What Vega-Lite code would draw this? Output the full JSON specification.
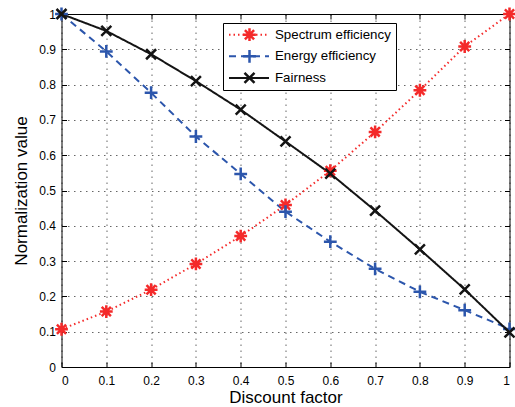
{
  "$schema": "https://vega.github.io/schema/vega-lite/v6.json",
  "width": 448,
  "height": 353,
  "autosize": {"type": "none"},
  "padding": {"left": 61.5, "top": 14, "right": 5.5, "bottom": 40},
  "background": "white",
  "config": {"view": {"stroke": null}, "font": "Liberation Sans"},
  "data": {"values": [
    {"x": 0.0, "value": 0.107, "series": "Spectrum efficiency"},
    {"x": 0.1, "value": 0.157, "series": "Spectrum efficiency"},
    {"x": 0.2, "value": 0.219, "series": "Spectrum efficiency"},
    {"x": 0.3, "value": 0.292, "series": "Spectrum efficiency"},
    {"x": 0.4, "value": 0.371, "series": "Spectrum efficiency"},
    {"x": 0.5, "value": 0.459, "series": "Spectrum efficiency"},
    {"x": 0.6, "value": 0.556, "series": "Spectrum efficiency"},
    {"x": 0.7, "value": 0.666, "series": "Spectrum efficiency"},
    {"x": 0.8, "value": 0.784, "series": "Spectrum efficiency"},
    {"x": 0.9, "value": 0.908, "series": "Spectrum efficiency"},
    {"x": 1.0, "value": 1.0, "series": "Spectrum efficiency"},
    {"x": 0.0, "value": 1.0, "series": "Energy efficiency"},
    {"x": 0.1, "value": 0.894, "series": "Energy efficiency"},
    {"x": 0.2, "value": 0.777, "series": "Energy efficiency"},
    {"x": 0.3, "value": 0.653, "series": "Energy efficiency"},
    {"x": 0.4, "value": 0.547, "series": "Energy efficiency"},
    {"x": 0.5, "value": 0.44, "series": "Energy efficiency"},
    {"x": 0.6, "value": 0.355, "series": "Energy efficiency"},
    {"x": 0.7, "value": 0.278, "series": "Energy efficiency"},
    {"x": 0.8, "value": 0.213, "series": "Energy efficiency"},
    {"x": 0.9, "value": 0.161, "series": "Energy efficiency"},
    {"x": 1.0, "value": 0.108, "series": "Energy efficiency"},
    {"x": 0.0, "value": 1.0, "series": "Fairness"},
    {"x": 0.1, "value": 0.952, "series": "Fairness"},
    {"x": 0.2, "value": 0.886, "series": "Fairness"},
    {"x": 0.3, "value": 0.81, "series": "Fairness"},
    {"x": 0.4, "value": 0.729, "series": "Fairness"},
    {"x": 0.5, "value": 0.639, "series": "Fairness"},
    {"x": 0.6, "value": 0.548, "series": "Fairness"},
    {"x": 0.7, "value": 0.443, "series": "Fairness"},
    {"x": 0.8, "value": 0.333, "series": "Fairness"},
    {"x": 0.9, "value": 0.22, "series": "Fairness"},
    {"x": 1.0, "value": 0.098, "series": "Fairness"}
  ]},
  "layer": [
    {
      "mark": {"type": "line", "strokeWidth": 2},
      "encoding": {
        "x": {"field": "x", "type": "quantitative", "scale": {"domain": [0, 1], "nice": false},
          "axis": {"orient": "bottom", "values": [0, 0.1, 0.2, 0.3, 0.4, 0.5, 0.6, 0.7, 0.8, 0.9, 1], "format": "~g",
            "grid": true, "gridDash": [1.5, 4.5], "gridColor": "#333", "gridOpacity": 0.75, "gridWidth": 1,
            "domainColor": "#000", "tickColor": "#000", "tickSize": -5,
            "labelFontSize": 12, "labelColor": "#000", "labelPadding": 13, "labelFont": "Liberation Sans",
            "title": "Discount factor", "titleFontSize": 17, "titleFontWeight": "normal", "titleColor": "#000", "titleFont": "Liberation Sans", "titlePadding": 3}},
        "y": {"field": "value", "type": "quantitative", "scale": {"domain": [0, 1], "nice": false},
          "axis": {"orient": "left", "values": [0, 0.1, 0.2, 0.3, 0.4, 0.5, 0.6, 0.7, 0.8, 0.9, 1], "format": "~g",
            "grid": true, "gridDash": [1.5, 4.5], "gridColor": "#333", "gridOpacity": 0.75, "gridWidth": 1,
            "domainColor": "#000", "tickColor": "#000", "tickSize": -5,
            "labelFontSize": 12, "labelColor": "#000", "labelPadding": 11, "labelFont": "Liberation Sans",
            "title": "Normalization value", "titleFontSize": 17, "titleFontWeight": "normal", "titleColor": "#000", "titleFont": "Liberation Sans", "titlePadding": 8}},
        "color": {"field": "series", "type": "nominal",
          "scale": {"domain": ["Spectrum efficiency", "Energy efficiency", "Fairness"], "range": ["#f42a2a", "#2c56ac", "#141414"]},
          "legend": {"orient": "none", "legendX": 161.5, "legendY": 9, "title": null,
            "strokeColor": "#000", "fillColor": "#fff", "padding": 5, "symbolType": "stroke", "symbolSize": 1600, "symbolStrokeWidth": 2,
            "labelFontSize": 13.3, "labelFont": "Liberation Sans", "labelColor": "#000", "labelOffset": 5, "clipHeight": 13.4, "rowPadding": 6.6}},
        "strokeDash": {"field": "series", "type": "nominal",
          "scale": {"domain": ["Spectrum efficiency", "Energy efficiency", "Fairness"], "range": [[1.5, 3], [7, 5], [1, 0]]},
          "legend": {"orient": "none", "legendX": 161.5, "legendY": 9, "title": null}}
      }
    },
    {
      "mark": {"type": "point", "filled": false, "size": 1600, "strokeWidth": 2.5, "opacity": 1},
      "encoding": {
        "x": {"field": "x", "type": "quantitative",
          "axis": {"orient": "top", "values": [0, 0.1, 0.2, 0.3, 0.4, 0.5, 0.6, 0.7, 0.8, 0.9, 1], "labels": false, "grid": false, "title": null,
            "domainColor": "#000", "tickColor": "#000", "tickSize": -5}},
        "y": {"field": "value", "type": "quantitative",
          "axis": {"orient": "right", "values": [0, 0.1, 0.2, 0.3, 0.4, 0.5, 0.6, 0.7, 0.8, 0.9, 1], "labels": false, "grid": false, "title": null,
            "domainColor": "#000", "tickColor": "#000", "tickSize": -5}},
        "stroke": {"field": "series", "type": "nominal",
          "scale": {"range": ["#2c56ac", "#141414", "#f42a2a"]},
          "legend": {"orient": "none", "legendX": 161.5, "legendY": 9, "title": null,
            "values": ["Spectrum efficiency", "Energy efficiency", "Fairness"],
            "padding": 5, "symbolSize": 1600, "symbolStrokeWidth": 2.5, "symbolFillColor": "transparent",
            "labelFontSize": 13.3, "labelFont": "Liberation Sans", "labelColor": "transparent", "labelOffset": 5, "clipHeight": 13.4, "rowPadding": 6.6}},
        "shape": {"field": "series", "type": "nominal",
          "scale": {"range": [
            "M0,-0.32L0,0.32M-0.32,0L0.32,0",
            "M-0.25,-0.25L0.25,0.25M-0.25,0.25L0.25,-0.25",
            "M0,-0.32L0,0.32M-0.32,0L0.32,0M-0.23,-0.23L0.23,0.23M-0.23,0.23L0.23,-0.23"]},
          "legend": {"orient": "none", "legendX": 161.5, "legendY": 9, "title": null,
            "values": ["Spectrum efficiency", "Energy efficiency", "Fairness"]}}
      }
    }
  ],
  "resolve": {"axis": {"x": "independent", "y": "independent"}}
}
